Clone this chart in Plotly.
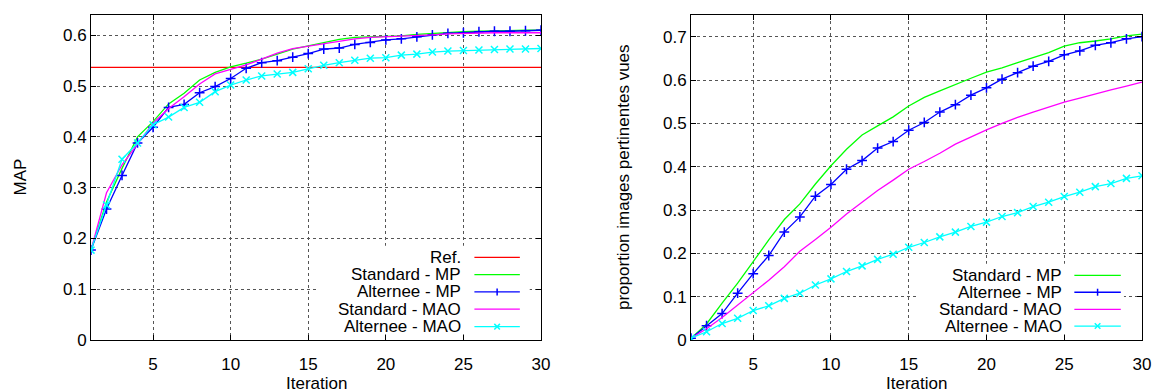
import plotly.graph_objects as go

# ---------------- data ----------------
iterations = list(range(1, 31))

ref_map = 0.537
std_mp_map = [0.177, 0.272, 0.338, 0.400, 0.430, 0.465, 0.486, 0.512, 0.527, 0.538,
              0.545, 0.553, 0.563, 0.573, 0.579, 0.586, 0.592, 0.596, 0.597, 0.599,
              0.599, 0.602, 0.604, 0.606, 0.607, 0.608, 0.609, 0.609, 0.610, 0.610]
alt_mp_map = [0.177, 0.258, 0.324, 0.388, 0.419, 0.458, 0.464, 0.487, 0.499, 0.515,
              0.535, 0.546, 0.550, 0.557, 0.564, 0.573, 0.575, 0.582, 0.586, 0.591,
              0.593, 0.597, 0.601, 0.604, 0.605, 0.607, 0.608, 0.608, 0.609, 0.610]
std_mao_map = [0.177, 0.290, 0.345, 0.385, 0.427, 0.456, 0.479, 0.504, 0.524, 0.533,
               0.542, 0.553, 0.565, 0.574, 0.579, 0.584, 0.589, 0.593, 0.596, 0.597,
               0.599, 0.599, 0.601, 0.603, 0.604, 0.604, 0.605, 0.605, 0.605, 0.605]
alt_mao_map = [0.177, 0.266, 0.356, 0.388, 0.424, 0.439, 0.458, 0.468, 0.489, 0.502,
               0.512, 0.520, 0.524, 0.527, 0.534, 0.541, 0.546, 0.551, 0.555, 0.556,
               0.561, 0.563, 0.567, 0.569, 0.570, 0.571, 0.572, 0.573, 0.573, 0.574]

std_mp_prop = [0.004, 0.037, 0.085, 0.131, 0.181, 0.231, 0.278, 0.314, 0.360, 0.402,
               0.440, 0.473, 0.494, 0.515, 0.540, 0.560, 0.575, 0.590, 0.604, 0.618,
               0.628, 0.640, 0.652, 0.663, 0.678, 0.686, 0.690, 0.695, 0.702, 0.706]
alt_mp_prop = [0.004, 0.033, 0.061, 0.108, 0.153, 0.195, 0.249, 0.284, 0.332, 0.359,
               0.394, 0.414, 0.443, 0.458, 0.484, 0.502, 0.526, 0.543, 0.565, 0.582,
               0.602, 0.617, 0.632, 0.643, 0.658, 0.667, 0.680, 0.686, 0.695, 0.700]
std_mao_prop = [0.004, 0.026, 0.052, 0.080, 0.109, 0.138, 0.169, 0.205, 0.232, 0.260,
                0.291, 0.319, 0.345, 0.369, 0.394, 0.412, 0.431, 0.452, 0.469, 0.485,
                0.500, 0.514, 0.526, 0.538, 0.549, 0.558, 0.568, 0.577, 0.586, 0.595]
alt_mao_prop = [0.004, 0.019, 0.038, 0.050, 0.068, 0.079, 0.096, 0.108, 0.127, 0.141,
                0.158, 0.171, 0.186, 0.198, 0.214, 0.225, 0.238, 0.249, 0.262, 0.272,
                0.285, 0.294, 0.308, 0.318, 0.331, 0.341, 0.354, 0.361, 0.373, 0.379]

x_ticks = [5, 10, 15, 20, 25, 30]
y_ticks_map = [0, 0.1, 0.2, 0.3, 0.4, 0.5, 0.6]
y_ticks_prop = [0, 0.1, 0.2, 0.3, 0.4, 0.5, 0.6, 0.7]

names_left = ["Ref.", "Standard - MP", "Alternee - MP", "Standard - MAO", "Alternee - MAO"]
names_right = ["Standard - MP", "Alternee - MP", "Standard - MAO", "Alternee - MAO"]

# ---------------- styles ----------------
FONT = "Liberation Sans, Arial, Helvetica, sans-serif"
FS = 17
RED, GREEN, BLUE, MAGENTA, CYAN = "#ff0000", "#00ff00", "#0000ff", "#ff00ff", "#00ffff"
LW = 1.3
MS = 7
styles = {
    "Ref.": dict(color=RED, symbol=None),
    "Standard - MP": dict(color=GREEN, symbol=None),
    "Alternee - MP": dict(color=BLUE, symbol="cross-thin"),
    "Standard - MAO": dict(color=MAGENTA, symbol=None),
    "Alternee - MAO": dict(color=CYAN, symbol="x-thin"),
}

W, H = 1158, 392
PLOT_H = 325  # px height of each plot area
L_DOM = [91 / W, 541 / W]
R_DOM = [691 / W, 1142 / W]

fig = go.Figure()


def add_series(x, y, name, xa, ya):
    st = styles[name]
    if st["symbol"]:
        fig.add_trace(go.Scatter(
            x=x, y=y, mode="lines+markers", xaxis=xa, yaxis=ya, showlegend=False,
            line=dict(color=st["color"], width=LW),
            marker=dict(symbol=st["symbol"], size=MS,
                        line=dict(color=st["color"], width=1.5), color=st["color"])))
    else:
        fig.add_trace(go.Scatter(
            x=x, y=y, mode="lines", xaxis=xa, yaxis=ya, showlegend=False,
            line=dict(color=st["color"], width=LW)))


# Left panel
add_series([iterations[0], iterations[-1]], [ref_map, ref_map], "Ref.", "x", "y")
add_series(iterations, std_mp_map, "Standard - MP", "x", "y")
add_series(iterations, alt_mp_map, "Alternee - MP", "x", "y")
add_series(iterations, std_mao_map, "Standard - MAO", "x", "y")
add_series(iterations, alt_mao_map, "Alternee - MAO", "x", "y")

# Right panel
add_series(iterations, std_mp_prop, "Standard - MP", "x2", "y2")
add_series(iterations, alt_mp_prop, "Alternee - MP", "x2", "y2")
add_series(iterations, std_mao_prop, "Standard - MAO", "x2", "y2")
add_series(iterations, alt_mao_prop, "Alternee - MAO", "x2", "y2")

# ---------------- custom gnuplot-like legends (shapes in axis-domain fractions) ----------
annotations = []
shapes = []

legend_specs = [
    (names_left, "x", "y", (L_DOM[1] - L_DOM[0]) * W, 0.826, 0.852, 0.953,
     [0.254, 0.201, 0.148, 0.095, 0.041], (0.50, 0.975, 0.018, 0.29)),
    (names_right, "x2", "y2", (R_DOM[1] - R_DOM[0]) * W, 0.826, 0.850, 0.953,
     [0.199, 0.147, 0.094, 0.043], (0.50, 0.96, 0.018, 0.235)),
]
for names, xr, yr, plot_w, tx, lx0, lx1, rows, box in legend_specs:
    xd, yd = f"{xr} domain", f"{yr} domain"
    shapes.append(dict(type="rect", xref=xd, yref=yd, x0=box[0], x1=box[1],
                       y0=box[2], y1=box[3], fillcolor="white",
                       line=dict(width=0, color="white"), layer="above"))
    dx, dy = 3.5 / plot_w, 3.5 / PLOT_H
    for name, ry in zip(names, rows):
        st = styles[name]
        annotations.append(dict(text=name, xref=xd, yref=yd, x=tx, y=ry,
                                xanchor="right", yanchor="middle", showarrow=False,
                                font=dict(family=FONT, size=FS, color="black")))
        shapes.append(dict(type="line", xref=xd, yref=yd, x0=lx0, x1=lx1, y0=ry, y1=ry,
                           line=dict(color=st["color"], width=LW), layer="above"))
        xm = (lx0 + lx1) / 2
        if st["symbol"] == "cross-thin":
            shapes.append(dict(type="line", xref=xd, yref=yd, x0=xm, x1=xm,
                               y0=ry - dy, y1=ry + dy,
                               line=dict(color=st["color"], width=1.5), layer="above"))
        elif st["symbol"] == "x-thin":
            for sgn in (1, -1):
                shapes.append(dict(type="line", xref=xd, yref=yd,
                                   x0=xm - dx * 0.8, x1=xm + dx * 0.8,
                                   y0=ry - sgn * dy * 0.8, y1=ry + sgn * dy * 0.8,
                                   line=dict(color=st["color"], width=1.5), layer="above"))

# axis titles
annotations += [
    dict(text="Iteration", xref="paper", yref="paper", x=(L_DOM[0] + L_DOM[1]) / 2,
         y=-0.135, xanchor="center", yanchor="middle", showarrow=False,
         font=dict(family=FONT, size=FS, color="black")),
    dict(text="Iteration", xref="paper", yref="paper", x=(R_DOM[0] + R_DOM[1]) / 2,
         y=-0.135, xanchor="center", yanchor="middle", showarrow=False,
         font=dict(family=FONT, size=FS, color="black")),
    dict(text="MAP", xref="paper", yref="paper", x=20 / W, y=0.5, textangle=-90,
         xanchor="center", yanchor="middle", showarrow=False,
         font=dict(family=FONT, size=FS, color="black")),
    dict(text="proportion images pertinentes vues", xref="paper", yref="paper",
         x=623.5 / W, y=0.5, textangle=-90, xanchor="center", yanchor="middle",
         showarrow=False, font=dict(family=FONT, size=FS, color="black")),
]

axis_common = dict(showline=True, linecolor="black", linewidth=1, mirror="allticks",
                   ticks="inside", ticklen=5, tickcolor="black", tickwidth=1,
                   showgrid=True, gridcolor="#555555", griddash="dot", gridwidth=1,
                   zeroline=False, automargin=False,
                   tickfont=dict(family=FONT, size=FS, color="black"))

fig.update_layout(
    width=W, height=H,
    margin=dict(l=0, r=0, t=15, b=52, autoexpand=False),
    paper_bgcolor="white", plot_bgcolor="white",
    showlegend=False,
    xaxis=dict(domain=L_DOM, range=[1, 30], tickvals=x_ticks, anchor="y",
               ticklabelstandoff=9, **axis_common),
    yaxis=dict(domain=[0, 1], range=[0, 0.64], tickvals=y_ticks_map, anchor="x", **axis_common),
    xaxis2=dict(domain=R_DOM, range=[1, 30], tickvals=x_ticks, anchor="y2",
                ticklabelstandoff=9, **axis_common),
    yaxis2=dict(domain=[0, 1], range=[0, 0.75], tickvals=y_ticks_prop, anchor="x2", **axis_common),
    shapes=shapes,
    annotations=annotations,
)

fig.write_html("out.html",
               config={"displayModeBar": False},
               post_script="document.body.style.margin='0px';"
                           "document.body.style.overflow='hidden';")
